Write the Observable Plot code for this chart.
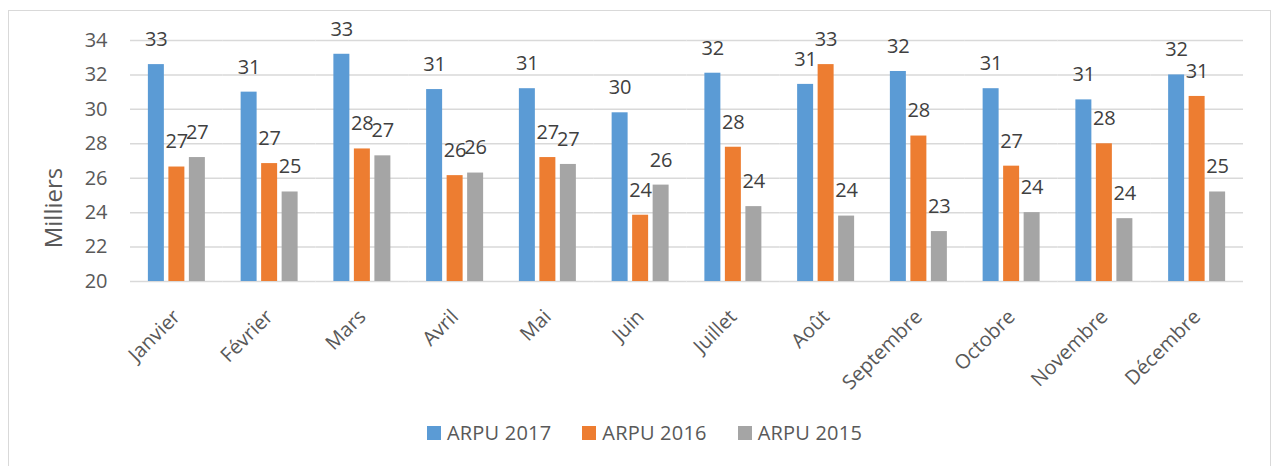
<!DOCTYPE html>
<html>
<head>
<meta charset="utf-8">
<script src="https://cdn.jsdelivr.net/npm/d3@7"></script>
<script src="https://cdn.jsdelivr.net/npm/@observablehq/plot@0.6"></script>
<style>
  html, body { margin: 0; padding: 0; background: #fff; }
  body { width: 1273px; height: 466px; position: relative; overflow: hidden; font-family: "Open Sans", sans-serif; }
  #frame { position: absolute; left: 8px; top: 10px; width: 1263px; height: 480px; border: 1px solid #d9d9d9; box-sizing: border-box; }
  #chart { position: absolute; left: 0; top: 0; }
  #ylabel { position: absolute; left: 52px; top: 208px; transform: translate(-50%, -50%) rotate(-90deg); font-size: 24px; color: #595959; white-space: nowrap; }
  #legend { position: absolute; left: 0; width: 1273px; top: 419px; display: flex; justify-content: center; gap: 31px; font-size: 20px; letter-spacing: 0.2px; color: #595959; padding-left: 16px; box-sizing: border-box; }
  #legend .item { display: flex; align-items: center; gap: 6px; }
  #legend .sw { width: 14px; height: 14px; display: inline-block; }
</style>
</head>
<body>
<div id="frame"></div>
<div id="chart"></div>
<div id="ylabel">Milliers</div>
<div id="legend"></div>
<script>
const months = ["Janvier", "Février", "Mars", "Avril", "Mai", "Juin", "Juillet", "Août", "Septembre", "Octobre", "Novembre", "Décembre"];
const seriesNames = ["ARPU 2017", "ARPU 2016", "ARPU 2015"];
const colors = ["#5B9BD5", "#ED7D31", "#A5A5A5"];
const arpu2017 = [32.6, 31.0, 33.2, 31.15, 31.2, 29.8, 32.1, 31.45, 32.2, 31.2, 30.55, 32.0];
const arpu2016 = [26.65, 26.85, 27.7, 26.15, 27.2, 23.85, 27.8, 32.6, 28.45, 26.7, 28.0, 30.75];
const arpu2015 = [27.2, 25.2, 27.3, 26.3, 26.8, 25.6, 24.35, 23.8, 22.9, 24.0, 23.65, 25.2];
const yTicks = [20, 22, 24, 26, 28, 30, 32, 34];
const baseline = 20;

const seriesValues = [arpu2017, arpu2016, arpu2015];
const data = [];
months.forEach((m, i) => {
  seriesNames.forEach((s, j) => {
    data.push({month: m, series: s, value: seriesValues[j][i]});
  });
});

const chart = Plot.plot({
  width: 1273,
  height: 400,
  marginLeft: 130,
  marginRight: 30,
  marginTop: 40,
  marginBottom: 119,
  style: {fontFamily: "Open Sans, sans-serif", fontSize: "20px", color: "#595959", background: "transparent"},
  fx: {domain: months, padding: 0, round: false, label: null, tickRotate: -45, tickSize: 0, tickPadding: 32},
  x: {domain: seriesNames, paddingInner: 0.22, paddingOuter: 0.872, round: false, axis: null},
  y: {domain: [20, 34], ticks: yTicks, label: null, tickSize: 0, tickPadding: 23},
  color: {domain: seriesNames, range: colors},
  marks: [
    Plot.ruleY(yTicks, {stroke: "#d9d9d9", strokeWidth: 1.5}),
    Plot.barY(data, {fx: "month", x: "series", y1: baseline, y2: "value", fill: "series"}),
    Plot.text(data, {fx: "month", x: "series", y: "value", text: d => String(Math.round(d.value)), dy: -25, fontSize: 20, fill: "#404040"})
  ]
});
document.getElementById("chart").appendChild(chart);

const legend = document.getElementById("legend");
seriesNames.forEach((s, i) => {
  const item = document.createElement("div");
  item.className = "item";
  const sw = document.createElement("span");
  sw.className = "sw";
  sw.style.background = colors[i];
  const t = document.createElement("span");
  t.textContent = s;
  item.appendChild(sw);
  item.appendChild(t);
  legend.appendChild(item);
});
</script>
</body>
</html>
